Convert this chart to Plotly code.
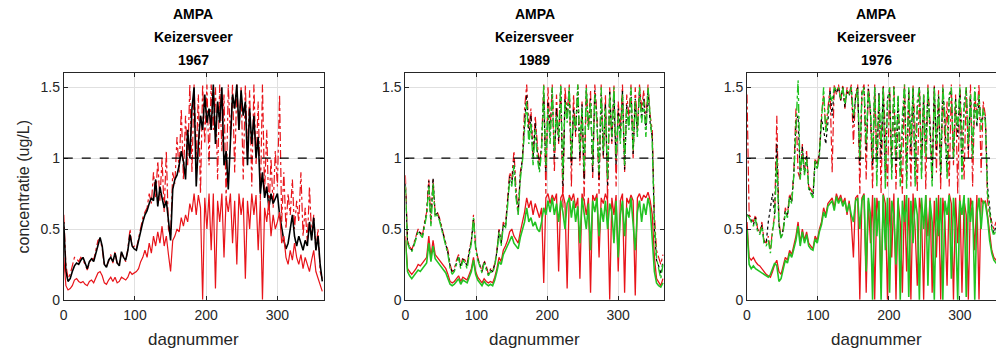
import plotly.graph_objects as go

days = list(range(0, 366, 3))
threshold = 1.0
title_lines = [["AMPA", "Keizersveer", "1967"], ["AMPA", "Keizersveer", "1989"], ["AMPA", "Keizersveer", "1976"]]
x_ticks = [0, 100, 200, 300]
y_ticks = [0, 0.5, 1, 1.5]
y_tick_text = ["0", "0.5", "1", "1.5"]

# ---------------- 1967 ----------------
p1_black = [0.55, 0.2, 0.13, 0.15, 0.2, 0.24, 0.26, 0.25, 0.28, 0.3,
            0.26, 0.22, 0.27, 0.29, 0.27, 0.33, 0.4, 0.44, 0.38, 0.25,
            0.23, 0.28, 0.3, 0.27, 0.33, 0.26, 0.24, 0.34, 0.3, 0.28,
            0.35, 0.46, 0.38, 0.36, 0.35, 0.42, 0.5, 0.55, 0.6, 0.63,
            0.68, 0.72, 0.7, 0.85, 0.66, 0.8, 0.72, 0.65, 0.7, 0.55,
            0.42, 0.78, 0.85, 0.88, 0.95, 1.05, 0.98, 0.85, 1.2, 1.0,
            1.35, 1.5, 0.8, 1.1, 1.3, 1.2, 1.45, 1.25, 1.35, 1.2,
            1.52, 1.1, 1.4, 1.25, 1.5, 0.95, 1.05, 0.78, 1.1, 1.45,
            1.35, 1.52, 1.2, 1.48, 1.3, 1.4, 0.95, 1.35, 1.1, 1.3,
            1.0, 1.15, 0.75, 0.9, 0.72, 0.8, 0.65, 0.75, 0.68, 0.72,
            0.75, 0.6, 0.5, 0.42, 0.36, 0.4, 0.5, 0.6, 0.45, 0.38,
            0.45, 0.4, 0.35, 0.42, 0.38, 0.55, 0.42, 0.58, 0.35, 0.45,
            0.25, 0.13]
p1_red_up = [0.6, 0.25, 0.15, 0.18, 0.24, 0.3, 0.29, 0.27, 0.3, 0.28,
             0.25, 0.21, 0.26, 0.3, 0.28, 0.35, 0.42, 0.43, 0.36, 0.24,
             0.24, 0.27, 0.32, 0.26, 0.34, 0.25, 0.26, 0.33, 0.3, 0.27,
             0.36, 0.5, 0.37, 0.38, 0.36, 0.44, 0.52, 0.58, 0.62, 0.65,
             0.75, 0.68, 0.9, 0.72, 0.98, 0.7, 1.0, 0.62, 1.05, 0.5,
             0.45, 0.9, 0.82, 1.15, 0.9, 1.35, 0.85, 1.3, 0.95, 1.52,
             0.9, 1.52, 1.0, 1.45, 0.75, 1.52, 1.1, 1.52, 0.95, 1.52,
             1.2, 1.5, 0.85, 1.52, 1.05, 1.45, 0.7, 1.52, 1.15, 1.52,
             0.9, 1.52, 1.2, 1.5, 0.85, 1.52, 1.0, 1.48, 0.8, 1.52,
             0.95, 1.4, 0.7, 1.52, 0.75, 1.2, 0.6, 1.0, 0.65, 1.05,
             0.8, 1.45, 0.55, 0.9, 0.5, 0.75, 0.6, 0.85, 0.5, 0.7,
             0.55, 0.9, 0.45, 0.65, 0.4, 0.8, 0.45, 0.6, 0.35, 0.5,
             0.2, 0.15]
p1_red_lo = [0.3, 0.1, 0.07, 0.08, 0.1, 0.14, 0.15, 0.13, 0.12, 0.13,
             0.11, 0.1, 0.13, 0.14, 0.12, 0.15, 0.19, 0.2, 0.17, 0.12,
             0.11, 0.14, 0.16, 0.13, 0.16, 0.12, 0.13, 0.16, 0.15, 0.14,
             0.16, 0.2, 0.18, 0.19, 0.2, 0.22, 0.27, 0.3, 0.35, 0.3,
             0.4, 0.33, 0.45, 0.38, 0.48, 0.4, 0.52, 0.38, 0.45, 0.32,
             0.2, 0.42, 0.45, 0.5, 0.48, 0.58, 0.52, 0.6, 0.55, 0.68,
             0.62, 0.75, 0.6, 0.74, 0.65, 0.0, 0.72, 0.5, 0.75, 0.35,
             0.75, 0.08, 0.7, 0.55, 0.75, 0.3, 0.72, 0.62, 0.75, 0.4,
             0.7, 0.25, 0.75, 0.6, 0.72, 0.15, 0.7, 0.5, 0.75, 0.6,
             0.74, 0.35, 0.7, 0.0, 0.65, 0.55, 0.7, 0.45, 0.6, 0.5,
             0.55, 0.62, 0.4, 0.45, 0.3, 0.25, 0.35, 0.28, 0.4, 0.3,
             0.25, 0.32, 0.22, 0.3, 0.25, 0.2, 0.28, 0.35, 0.2, 0.15,
             0.1, 0.06]

# ---------------- 1989 ----------------
p2_red_up = [0.88, 0.42, 0.38, 0.35, 0.4, 0.45, 0.5, 0.48, 0.45, 0.55,
             0.62, 0.85, 0.55, 0.85, 0.6, 0.62, 0.58, 0.52, 0.45, 0.4,
             0.35, 0.25, 0.2, 0.22, 0.28, 0.32, 0.24, 0.3, 0.28, 0.25,
             0.35, 0.42, 0.6, 0.38, 0.3, 0.25, 0.2, 0.28, 0.24, 0.18,
             0.22, 0.2, 0.26, 0.35, 0.5, 0.4, 0.55, 0.52, 0.7, 0.9,
             0.85, 1.05, 0.78, 0.62, 0.9, 1.0, 1.35, 1.52, 1.2, 1.35,
             1.0, 1.3, 1.1, 0.95, 1.1, 1.52, 0.75, 1.5, 1.2, 1.52,
             0.9, 1.45, 1.1, 1.52, 0.65, 1.5, 1.3, 1.52, 0.8, 1.45,
             1.15, 1.52, 0.95, 1.4, 0.7, 1.52, 1.2, 1.48, 0.85, 1.52,
             1.3, 0.75, 1.52, 1.0, 1.45, 0.7, 1.5, 1.1, 1.52, 0.8,
             1.4, 1.2, 1.52, 0.9, 1.45, 1.3, 1.52, 1.0, 1.5, 1.2,
             1.52, 1.35, 1.48, 1.25, 1.52, 1.3, 1.2, 0.6, 0.35, 0.3,
             0.25, 0.32]
p2_black_up = [0.82, 0.41, 0.37, 0.35, 0.39, 0.45, 0.49, 0.47, 0.45, 0.53,
               0.61, 0.84, 0.54, 0.86, 0.6, 0.61, 0.57, 0.51, 0.45, 0.39,
               0.33, 0.24, 0.19, 0.21, 0.27, 0.31, 0.23, 0.29, 0.27, 0.24,
               0.34, 0.41, 0.57, 0.37, 0.29, 0.24, 0.2, 0.27, 0.23, 0.18,
               0.21, 0.2, 0.25, 0.34, 0.49, 0.39, 0.53, 0.51, 0.68, 0.87,
               0.82, 0.98, 0.74, 0.61, 0.88, 0.99, 1.25, 1.45, 1.15, 1.3,
               1.0, 1.25, 1.05, 0.92, 1.08, 1.45, 0.9, 1.4, 1.15, 1.48,
               1.0, 1.35, 1.12, 1.5, 0.8, 1.42, 1.28, 1.48, 0.95, 1.35,
               1.18, 1.5, 1.0, 1.38, 0.85, 1.48, 1.22, 1.42, 0.9, 1.48,
               1.28, 0.85, 1.45, 1.02, 1.38, 0.8, 1.48, 1.12, 1.45, 0.95,
               1.35, 1.15, 1.48, 0.92, 1.38, 1.22, 1.48, 1.02, 1.42, 1.18,
               1.48, 1.28, 1.42, 1.2, 1.48, 1.25, 1.15, 0.5, 0.28, 0.24,
               0.18, 0.27]
p2_green_up = [0.8, 0.4, 0.36, 0.34, 0.38, 0.44, 0.48, 0.46, 0.44, 0.52,
               0.6, 0.8, 0.52, 0.82, 0.58, 0.6, 0.56, 0.5, 0.44, 0.38,
               0.32, 0.22, 0.18, 0.2, 0.26, 0.3, 0.22, 0.28, 0.26, 0.22,
               0.32, 0.4, 0.58, 0.36, 0.28, 0.23, 0.19, 0.26, 0.22, 0.17,
               0.2, 0.19, 0.24, 0.33, 0.48, 0.38, 0.52, 0.5, 0.66, 0.85,
               0.8, 0.95, 0.72, 0.6, 0.85, 0.98, 1.2, 1.4, 1.1, 1.25,
               0.95, 1.2, 1.0, 0.9, 1.05, 1.52, 0.95, 1.35, 1.1, 1.5,
               1.05, 1.3, 1.15, 1.52, 0.85, 1.4, 1.25, 1.5, 1.0, 1.3,
               1.2, 1.52, 1.05, 1.35, 0.9, 1.5, 1.2, 1.4, 0.95, 1.45,
               1.25, 0.9, 1.5, 1.05, 1.35, 0.85, 1.45, 1.15, 1.5, 1.0,
               1.3, 1.1, 1.45, 0.95, 1.35, 1.2, 1.5, 1.05, 1.4, 1.15,
               1.5, 1.25, 1.4, 1.15, 1.5, 1.3, 1.1, 0.55, 0.3, 0.22,
               0.15, 0.25]
p2_red_lo = [0.45, 0.22, 0.2, 0.18, 0.2, 0.22, 0.25, 0.24, 0.26, 0.28,
             0.3, 0.45, 0.3, 0.42, 0.32, 0.3, 0.28, 0.26, 0.24, 0.22,
             0.18, 0.13, 0.12, 0.13, 0.15, 0.17, 0.13, 0.16, 0.15, 0.14,
             0.18, 0.22, 0.3, 0.2, 0.16, 0.14, 0.12, 0.15, 0.13, 0.12,
             0.13, 0.12, 0.16, 0.22, 0.3, 0.27, 0.35, 0.38, 0.42, 0.48,
             0.5, 0.45, 0.42, 0.4, 0.48, 0.55, 0.62, 0.72, 0.65, 0.7,
             0.6, 0.68, 0.62, 0.58, 0.65, 0.12, 0.72, 0.75, 0.68, 0.74,
             0.7, 0.75, 0.2, 0.72, 0.75, 0.68, 0.08, 0.74, 0.7, 0.75,
             0.65, 0.72, 0.15, 0.75, 0.7, 0.6, 0.72, 0.05, 0.74, 0.7,
             0.75, 0.3, 0.72, 0.68, 0.75, 0.7, 0.0, 0.72, 0.6, 0.74,
             0.2, 0.7, 0.75, 0.05, 0.72, 0.68, 0.74, 0.7, 0.03, 0.72,
             0.75, 0.7, 0.74, 0.72, 0.76, 0.7, 0.6, 0.3, 0.15, 0.12,
             0.1, 0.15]
p2_green_lo = [0.42, 0.2, 0.17, 0.15, 0.17, 0.19, 0.21, 0.2, 0.22, 0.24,
               0.26, 0.4, 0.27, 0.38, 0.29, 0.27, 0.25, 0.23, 0.21, 0.19,
               0.15, 0.11, 0.1, 0.11, 0.13, 0.15, 0.11, 0.14, 0.13, 0.12,
               0.16, 0.2, 0.28, 0.18, 0.14, 0.12, 0.1, 0.13, 0.11, 0.1,
               0.11, 0.1, 0.14, 0.2, 0.27, 0.25, 0.32, 0.35, 0.38, 0.42,
               0.45, 0.4, 0.38, 0.36, 0.44, 0.5, 0.55, 0.65, 0.55, 0.58,
               0.52, 0.55, 0.5, 0.48, 0.55, 0.65, 0.6, 0.7, 0.62, 0.72,
               0.6, 0.68, 0.55, 0.7, 0.62, 0.5, 0.68, 0.72, 0.58, 0.7,
               0.55, 0.66, 0.4, 0.72, 0.6, 0.5, 0.68, 0.35, 0.7, 0.62,
               0.72, 0.45, 0.65, 0.55, 0.7, 0.5, 0.68, 0.62, 0.4, 0.7,
               0.3, 0.6, 0.7, 0.45, 0.65, 0.58, 0.72, 0.5, 0.35, 0.62,
               0.7, 0.55, 0.68, 0.6, 0.72, 0.65, 0.45, 0.2, 0.12, 0.1,
               0.09, 0.12]

# ---------------- 1976 ----------------
p3_red_up = [1.45, 0.6, 0.58, 0.55, 0.6, 0.5, 0.48, 0.55, 0.42, 0.4,
             0.45, 0.35, 0.5, 0.6, 1.3, 0.55, 0.45, 0.5, 0.65, 0.6,
             0.75, 0.7, 0.9, 1.35, 0.9, 0.85, 1.1, 0.9, 1.05, 0.8,
             0.78, 0.75, 1.0, 0.95, 1.05, 1.3, 1.45, 1.2, 1.35, 1.5,
             0.9, 1.52, 1.45, 1.52, 1.4, 1.52, 1.35, 1.5, 1.45, 1.52,
             1.1, 1.45, 1.52, 0.75, 1.48, 1.52, 0.85, 1.52, 1.3, 0.78,
             1.52, 1.0, 1.45, 0.75, 1.52, 1.2, 0.8, 1.5, 0.95, 1.52,
             0.78, 1.4, 1.1, 0.75, 1.52, 0.9, 1.48, 0.8, 1.52, 1.2,
             0.76, 1.5, 1.0, 1.45, 0.78, 1.52, 1.25, 0.85, 1.52, 0.9,
             1.48, 0.78, 1.52, 1.1, 1.4, 0.8, 1.52, 0.95, 1.45, 0.75,
             1.52, 1.2, 0.85, 1.5, 1.0, 1.52, 0.8, 1.45, 1.3, 1.52,
             0.9, 1.4, 1.3, 0.7, 0.6, 0.55, 0.5, 0.55, 0.5, 0.48,
             0.5, 0.52]
p3_black_up = [0.6, 0.59, 0.56, 0.53, 0.58, 0.49, 0.47, 0.53, 0.41, 0.4,
               0.55, 0.65, 0.75, 0.6, 1.1, 0.53, 0.44, 0.49, 0.63, 0.59,
               0.73, 0.69, 0.89, 1.25, 1.3, 0.86, 1.08, 0.89, 1.02, 0.79,
               0.76, 0.73, 0.99, 0.93, 1.03, 1.28, 1.2, 1.1, 1.25, 1.48,
               1.3, 1.5, 1.46, 1.5, 1.41, 1.5, 1.36, 1.47, 1.44, 1.5,
               1.25, 1.43, 1.5, 0.95, 1.46, 1.5, 1.05, 1.49, 1.33, 0.95,
               1.5, 0.9, 1.46, 1.0, 1.5, 0.85, 1.42, 1.48, 0.9, 1.5,
               0.95, 1.44, 0.9, 1.25, 1.5, 0.85, 1.48, 1.05, 1.5, 0.85,
               1.35, 1.5, 0.9, 1.44, 1.05, 1.48, 1.22, 0.85, 1.5, 1.05,
               1.44, 0.88, 1.5, 1.25, 0.9, 1.42, 1.48, 1.0, 1.42, 1.15,
               1.48, 0.9, 1.38, 1.48, 1.05, 1.44, 1.02, 1.48, 1.22, 1.42,
               1.25, 1.32, 1.28, 0.8, 0.64, 0.52, 0.47, 0.52, 0.49, 0.46,
               0.49, 0.51]
p3_green_up = [0.6, 0.58, 0.55, 0.52, 0.57, 0.48, 0.46, 0.52, 0.4, 0.38,
               0.42, 0.33, 0.48, 0.58, 1.0, 0.52, 0.43, 0.48, 0.62, 0.58,
               0.72, 0.68, 0.88, 1.2, 1.55, 0.85, 1.05, 0.88, 1.0, 0.78,
               0.75, 0.72, 0.98, 0.92, 1.02, 1.25, 1.5, 1.18, 1.3, 1.45,
               1.4, 1.5, 1.48, 1.5, 1.42, 1.5, 1.38, 1.48, 1.45, 1.5,
               1.3, 1.42, 1.5, 1.0, 1.45, 1.5, 1.1, 1.48, 1.35, 1.0,
               1.5, 0.8, 1.45, 1.1, 1.5, 0.78, 1.4, 1.5, 0.85, 1.5,
               1.0, 1.45, 0.8, 1.3, 1.52, 0.78, 1.5, 1.1, 1.5, 0.8,
               1.4, 1.5, 0.85, 1.45, 1.0, 1.5, 1.2, 0.8, 1.5, 1.1,
               1.45, 0.9, 1.5, 1.3, 0.85, 1.45, 1.5, 1.0, 1.4, 1.2,
               1.5, 0.85, 1.35, 1.5, 1.1, 1.45, 1.0, 1.5, 1.25, 1.45,
               1.2, 1.35, 1.25, 0.75, 0.62, 0.5, 0.45, 0.5, 0.48, 0.45,
               0.48, 0.5]
p3_red_lo = [0.55, 0.3, 0.28, 0.3, 0.27, 0.25, 0.24, 0.22, 0.2, 0.18,
             0.17, 0.16, 0.2, 0.25, 0.28, 0.2, 0.18, 0.25, 0.3, 0.28,
             0.35, 0.32, 0.38, 0.45, 0.55, 0.4, 0.5, 0.42, 0.48, 0.4,
             0.38, 0.36, 0.45, 0.42, 0.5, 0.55, 0.65, 0.6, 0.68, 0.7,
             0.72, 0.65, 0.75, 0.7, 0.74, 0.68, 0.72, 0.6, 0.7, 0.55,
             0.3, 0.72, 0.74, 0.0, 0.72, 0.75, 0.05, 0.7, 0.4, 0.74,
             0.0, 0.72, 0.6, 0.1, 0.75, 0.68, 0.0, 0.72, 0.3, 0.75,
             0.0, 0.7, 0.55, 0.05, 0.74, 0.2, 0.72, 0.0, 0.75, 0.5,
             0.1, 0.72, 0.6, 0.0, 0.74, 0.45, 0.72, 0.05, 0.7, 0.3,
             0.74, 0.0, 0.72, 0.55, 0.1, 0.75, 0.68, 0.0, 0.72, 0.4,
             0.74, 0.05, 0.7, 0.6, 0.0, 0.72, 0.65, 0.35, 0.74, 0.0,
             0.72, 0.68, 0.7, 0.6, 0.45, 0.35, 0.3, 0.28, 0.3, 0.27,
             0.28, 0.3]
p3_green_lo = [0.5, 0.25, 0.22, 0.24, 0.22, 0.21, 0.2, 0.19, 0.18, 0.17,
               0.16, 0.18, 0.22, 0.26, 0.24, 0.13, 0.15, 0.22, 0.28, 0.26,
               0.33, 0.3, 0.36, 0.42, 0.52, 0.38, 0.48, 0.4, 0.46, 0.38,
               0.36, 0.35, 0.43, 0.4, 0.48, 0.53, 0.62, 0.58, 0.66, 0.68,
               0.7, 0.63, 0.73, 0.68, 0.72, 0.66, 0.7, 0.62, 0.68, 0.6,
               0.55, 0.7, 0.72, 0.5, 0.7, 0.74, 0.2, 0.72, 0.6, 0.0,
               0.72, 0.45, 0.7, 0.0, 0.74, 0.35, 0.72, 0.05, 0.7, 0.6,
               0.25, 0.72, 0.0, 0.7, 0.55, 0.74, 0.02, 0.7, 0.4, 0.72,
               0.6, 0.0, 0.72, 0.5, 0.74, 0.1, 0.7, 0.55, 0.0, 0.72,
               0.45, 0.72, 0.0, 0.7, 0.6, 0.74, 0.15, 0.72, 0.5, 0.0,
               0.7, 0.6, 0.74, 0.02, 0.72, 0.55, 0.7, 0.0, 0.6, 0.72,
               0.5, 0.7, 0.68, 0.58, 0.42, 0.33, 0.28, 0.26, 0.28, 0.25,
               0.26, 0.28]

RED = "#e8141a"
GREEN = "#22c322"
BLACK = "#000000"

panels = [
    [(p1_red_up, RED, "dashdot", 1.2), (p1_black, BLACK, "solid", 1.6), (p1_red_lo, RED, "solid", 1.2)],
    [(p2_red_up, RED, "dashdot", 1.2), (p2_black_up, BLACK, "dot", 1.2), (p2_green_up, GREEN, "dashdot", 1.4),
     (p2_red_lo, RED, "solid", 1.3), (p2_green_lo, GREEN, "solid", 1.6)],
    [(p3_red_up, RED, "dashdot", 1.2), (p3_black_up, BLACK, "dot", 1.2), (p3_green_up, GREEN, "dashdot", 1.4),
     (p3_red_lo, RED, "solid", 1.3), (p3_green_lo, GREEN, "solid", 1.6)],
]

# reference geometry (pixels in the 996x349 picture)
REF_W, REF_H = 996, 349
W, H = 996, 358
px_left = [60, 403, 746]
px_right = [321, 663, 996]
x_max = [365, 365, 365 * (996 - 746) / 260.0]
top_px, bot_px = 73, 299
FONT = "Liberation Sans, Arial, sans-serif"

fig = go.Figure()
for i, series in enumerate(panels):
    xa = "x" if i == 0 else f"x{i+1}"
    ya = "y" if i == 0 else f"y{i+1}"
    for vals, col, dash, lw in series:
        fig.add_trace(go.Scatter(x=days, y=vals, mode="lines", xaxis=xa, yaxis=ya,
                                 line=dict(color=col, dash=dash, width=lw), showlegend=False,
                                 hoverinfo="skip"))

axis_font = dict(family=FONT, size=14, color="#262626")
layout = dict(width=W, height=H, autosize=False, margin=dict(l=0, r=0, t=0, b=0, pad=0),
              paper_bgcolor="white", plot_bgcolor="white", showlegend=False)
ydom = [1 - bot_px / REF_H, 1 - top_px / REF_H]
shapes = []
annotations = []
for i in range(3):
    sx = "" if i == 0 else str(i + 1)
    layout["xaxis" + sx] = dict(domain=[px_left[i] / REF_W, px_right[i] / REF_W], range=[0, x_max[i]],
                                anchor="y" + sx, tickvals=x_ticks, ticks="inside", ticklen=4,
                                tickcolor="#262626", showline=True, linecolor="#262626", linewidth=1,
                                mirror="ticks", showgrid=True, gridcolor="#e0e0e0", gridwidth=1,
                                zeroline=False, tickfont=axis_font, ticklabelstandoff=2)
    layout["yaxis" + sx] = dict(domain=ydom, range=[0, 1.6], anchor="x" + sx,
                                tickvals=y_ticks, ticktext=y_tick_text, ticks="inside", ticklen=4,
                                tickcolor="#262626", showline=True, linecolor="#262626", linewidth=1,
                                mirror=("ticks" if i < 2 else False), showgrid=True, gridcolor="#e0e0e0",
                                gridwidth=1, zeroline=False, tickfont=axis_font)
    shapes.append(dict(type="line", xref=f"x{sx} domain", yref="y" + sx, x0=0, x1=1,
                       y0=threshold, y1=threshold, line=dict(color="black", dash="dash", width=1.3),
                       layer="above"))
    cx = (px_left[i] + (px_left[i] + 260)) / 2 / REF_W
    for k, (txt, ypx) in enumerate(zip(title_lines[i], [14, 37, 60])):
        annotations.append(dict(text="<b>" + txt + "</b>", xref="paper", yref="paper",
                                x=cx, y=1 - ypx / REF_H, xanchor="center", yanchor="middle", showarrow=False,
                                font=dict(family=FONT, size=14, color="black")))
    annotations.append(dict(text="dagnummer", xref="paper", yref="paper", x=cx, y=1 - 339 / REF_H,
                            xanchor="center", yanchor="middle", showarrow=False,
                            font=dict(family=FONT, size=17, color="#262626")))

annotations.append(dict(text="concentratie (ug/L)", xref="paper", yref="paper", x=20 / REF_W,
                        y=1 - 186 / REF_H, xanchor="center", yanchor="middle", textangle=-90,
                        showarrow=False, font=dict(family=FONT, size=16, color="#262626")))
layout["shapes"] = shapes
layout["annotations"] = annotations
fig.update_layout(**layout)
fig.write_html("out.html", config={"responsive": False},
               post_script="document.body.style.margin='0';document.body.style.overflow='hidden';")
